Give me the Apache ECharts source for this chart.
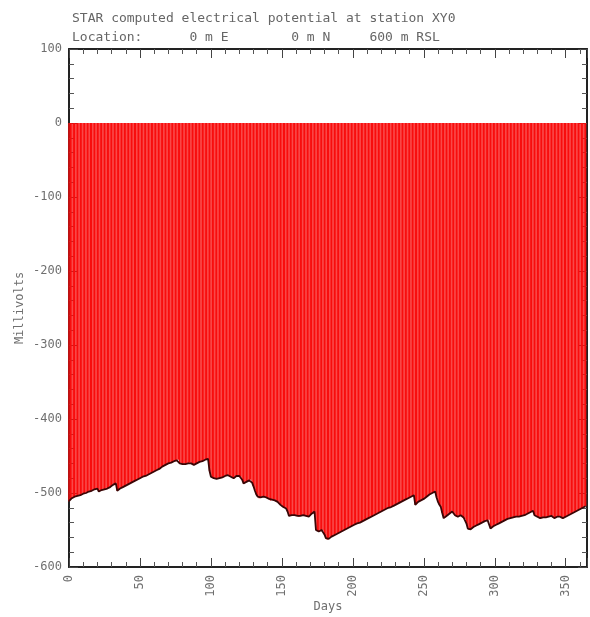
<!DOCTYPE html>
<html>
<head>
<meta charset="utf-8">
<script src="https://cdn.jsdelivr.net/npm/echarts@6/dist/echarts.min.js"></script>
<style>
  html, body { margin: 0; padding: 0; background: #ffffff; }
  #chart { width: 590px; height: 617px; }
</style>
</head>
<body>
<div id="chart"></div>
<script>
// Chart text
const titleLine1 = 'STAR computed electrical potential at station XY0';
const titleLine2 = 'Location:      0 m E        0 m N     600 m RSL';
const xAxisTitle = 'Days';
const yAxisTitle = 'Millivolts';

// Axis ranges and tick spacing
const dayRange = [0, 365];
const dayTickStep = 50;
const mvRange = [-600, 100];
const mvTickStep = 100;

// Daily computed potential (mV), day 0 .. day 364
const potential = [
  -511, -509, -507, -506, -505, -504, -504, -503, -503, -502,
  -501, -501, -500, -499, -498, -498, -497, -496, -495, -495,
  -494, -498, -497, -496, -496, -495, -494, -494, -493, -492,
  -490, -489, -488, -487, -497, -495, -494, -493, -492, -491,
  -490, -489, -488, -487, -486, -485, -484, -483, -482, -481,
  -480, -479, -478, -477, -477, -476, -475, -474, -473, -472,
  -471, -470, -469, -468, -467, -466, -464, -463, -462, -461,
  -460, -459, -459, -458, -457, -456, -456, -455, -460, -460,
  -461, -461, -461, -460, -460, -459, -460, -461, -462, -461,
  -460, -459, -458, -457, -457, -456, -455, -455, -454, -470,
  -478, -479, -480, -481, -481, -481, -480, -480, -479, -478,
  -477, -476, -476, -477, -478, -479, -480, -478, -477, -476,
  -477, -478, -482, -487, -486, -485, -484, -483, -482, -486,
  -491, -497, -502, -505, -507, -506, -505, -505, -505, -506,
  -507, -508, -510, -509, -509, -510, -511, -512, -514, -516,
  -518, -519, -520, -521, -525, -531, -531, -530, -530, -530,
  -531, -531, -532, -531, -530, -530, -531, -531, -532, -532,
  -530, -528, -526, -525, -550, -551, -552, -551, -550, -551,
  -556, -561, -563, -562, -560, -559, -558, -557, -556, -555,
  -554, -553, -552, -551, -550, -549, -548, -547, -546, -545,
  -544, -543, -542, -541, -540, -540, -539, -538, -537, -536,
  -535, -534, -533, -532, -531, -530, -529, -528, -527, -526,
  -525, -524, -523, -522, -521, -520, -520, -519, -518, -517,
  -516, -515, -514, -513, -512, -511, -510, -509, -508, -507,
  -506, -505, -504, -503, -516, -514, -512, -511, -510, -509,
  -508, -506, -505, -504, -502, -501, -500, -499, -498, -506,
  -512, -516, -519, -527, -534, -533, -531, -530, -528, -526,
  -525, -527, -530, -532, -532, -531, -530, -531, -533, -535,
  -541, -548, -550, -549, -548, -546, -545, -544, -543, -542,
  -541, -540, -539, -538, -537, -537, -536, -548, -546, -545,
  -544, -543, -542, -541, -540, -539, -538, -537, -536, -535,
  -534, -534, -533, -533, -532, -532, -532, -532, -531, -531,
  -530, -530, -529, -528, -527, -526, -525, -524, -530, -531,
  -532, -533, -534, -534, -533, -533, -533, -532, -532, -532,
  -531, -533, -534, -533, -532, -531, -532, -534, -534, -533,
  -532, -531, -530, -529, -528, -527, -526, -525, -524, -523,
  -522, -521, -520, -519, -518
];

const firstDay = 0;
const seriesData = potential.map((v, i) => [firstDay + i, v]);

const monoFont = '"DejaVu Sans Mono", "Liberation Mono", monospace';
const labelGray = '#6f6f6f';
const frameColor = '#222222';

function frameAxis(pos, showLabels, range, step, isX) {
  return {
    type: 'value',
    position: pos,
    min: range[0],
    max: range[1],
    interval: step,
    axisLine: { show: true, onZero: false, lineStyle: { color: frameColor, width: 2 } },
    axisTick: { show: true, inside: true, length: 9, lineStyle: { color: '#444', width: 1 } },
    minorTick: { show: true, splitNumber: 5, length: 5, lineStyle: { color: '#555', width: 1 } },
    splitLine: { show: false },
    minorSplitLine: { show: false },
    axisLabel: showLabels ? {
      show: true,
      color: labelGray,
      fontFamily: monoFont,
      fontSize: 12,
      margin: isX ? 8 : 7,
      rotate: isX ? 90 : 0,
      showMaxLabel: isX ? false : true
    } : { show: false }
  };
}

const chart = echarts.init(document.getElementById('chart'), null, { renderer: 'canvas' });

chart.setOption({
  animation: false,
  backgroundColor: '#ffffff',
  grid: { left: 69, right: 3, top: 49, bottom: 50, containLabel: false },
  title: {
    text: titleLine1 + '\n' + titleLine2,
    left: 67,
    top: 4,
    textStyle: {
      fontFamily: monoFont,
      fontSize: 13,
      fontWeight: 'normal',
      color: '#666666',
      lineHeight: 19
    }
  },
  xAxis: [
    frameAxis('bottom', true, dayRange, dayTickStep, true),
    frameAxis('top', false, dayRange, dayTickStep, true)
  ],
  yAxis: [
    frameAxis('left', true, mvRange, mvTickStep, false),
    frameAxis('right', false, mvRange, mvTickStep, false)
  ],
  graphic: [
    {
      type: 'text',
      x: 328,
      y: 607,
      style: {
        text: xAxisTitle,
        fontFamily: monoFont,
        fontSize: 12,
        fill: labelGray,
        align: 'center',
        verticalAlign: 'middle'
      }
    },
    {
      type: 'text',
      x: 20,
      y: 308,
      rotation: Math.PI / 2,
      style: {
        text: yAxisTitle,
        fontFamily: monoFont,
        fontSize: 12,
        fill: labelGray,
        align: 'center',
        verticalAlign: 'middle'
      }
    }
  ],
  series: [
    {
      type: 'bar',
      xAxisIndex: 0,
      yAxisIndex: 0,
      data: seriesData,
      barWidth: 1.42,
      itemStyle: { color: '#f80d0d' },
      clip: true,
      silent: true
    },
    {
      type: 'line',
      xAxisIndex: 0,
      yAxisIndex: 0,
      data: seriesData,
      showSymbol: false,
      symbol: 'none',
      lineStyle: { color: '#3a0606', width: 1.8 },
      z: 3,
      silent: true
    }
  ]
});
</script>
</body>
</html>
